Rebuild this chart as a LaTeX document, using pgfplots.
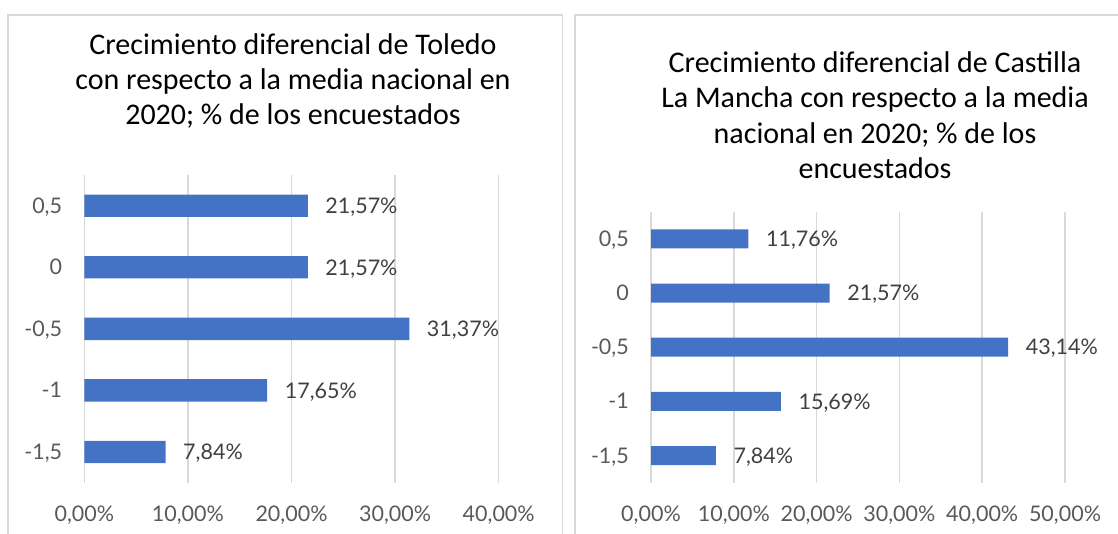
\documentclass[border=0pt]{standalone}
\usepackage{pgfplots}
\pgfplotsset{compat=1.18}
\usepackage{fontspec}
\setmainfont{Lato}
\newfontfamily\calibri{Carlito}
\definecolor{barblue}{HTML}{4472C4}
\definecolor{gridgray}{HTML}{D9D9D9}
\definecolor{ticktext}{HTML}{595959}
\definecolor{valtext}{HTML}{404040}

\pgfplotsset{
  hbar/.style={
    scale only axis, anchor=south west,
    xbar, bar shift=0pt, clip=false,
    ymin=-0.5, ymax=4.5, xmin=0,
    ytick={0,...,4}, yticklabels={{-1,5},{-1},{-0,5},{0},{0,5}},
    xmajorgrids, grid style={gridgray, line width=1.5pt},
    axis line style={draw=none}, major tick length=0pt,
    /pgf/number format/assume math mode=true,
    xticklabel={\pgfmathprintnumber[fixed,fixed zerofill,precision=2,use comma]{\tick}\%},
    tick label style={font=\fontsize{21.5}{25}\selectfont, text=ticktext, inner sep=0pt},
    xticklabel style={anchor=base, yshift=-38.3pt},
    yticklabel style={anchor=base east, xshift=-22pt, yshift=-7.5pt},
    point meta=x,
    nodes near coords={\pgfmathprintnumber[fixed,fixed zerofill,precision=2,use comma]{\pgfplotspointmeta}\%},
    every node near coord/.append style={anchor=base west, inner sep=0pt, xshift=17.5pt, yshift=-7.7pt,
      font=\fontsize{21.5}{25}\selectfont, text=valtext},
  }
}

\begin{document}
\begin{tikzpicture}
\path[use as bounding box] (0pt,0pt) rectangle (1118pt,533pt);

% chart frames
\draw[gridgray, line width=1.3pt] (8pt,-2pt) -- (8pt,518pt) -- (562.7pt,518pt) -- (562.7pt,-2pt);
\draw[gridgray, line width=1.3pt] (575pt,-2pt) -- (575pt,518pt) -- (1122pt,518pt);

% titles
\begin{scope}[every node/.style={anchor=base, inner sep=0pt, font=\calibri\fontsize{30}{36}\selectfont}]
\node at (293pt,478pt) {Crecimiento diferencial de Toledo};
\node at (293pt,443pt) {con respecto a la media nacional en};
\node at (293pt,408pt) {2020; \% de los encuestados};
\node at (875pt,460.3pt) {Crecimiento diferencial de Castilla};
\node at (875pt,425.3pt) {La Mancha con respecto a la media};
\node at (875pt,389.7pt) {nacional en 2020; \% de los};
\node at (875pt,354.7pt) {encuestados};
\end{scope}

\begin{axis}[hbar, at={(84.3pt,50.3pt)}, width=414.4pt, height=307.7pt,
  xmax=40, xtick={0,10,20,30,40}, bar width=22.3pt]
  \addplot[fill=barblue, draw=none] coordinates {(7.84,0) (17.65,1) (31.37,2) (21.57,3) (21.57,4)};
\end{axis}

\begin{axis}[hbar, at={(651pt,50.3pt)}, width=414pt, height=271pt,
  xmax=50, xtick={0,10,20,30,40,50}, bar width=19pt]
  \addplot[fill=barblue, draw=none] coordinates {(7.84,0) (15.69,1) (43.14,2) (21.57,3) (11.76,4)};
\end{axis}
\end{tikzpicture}
\end{document}
